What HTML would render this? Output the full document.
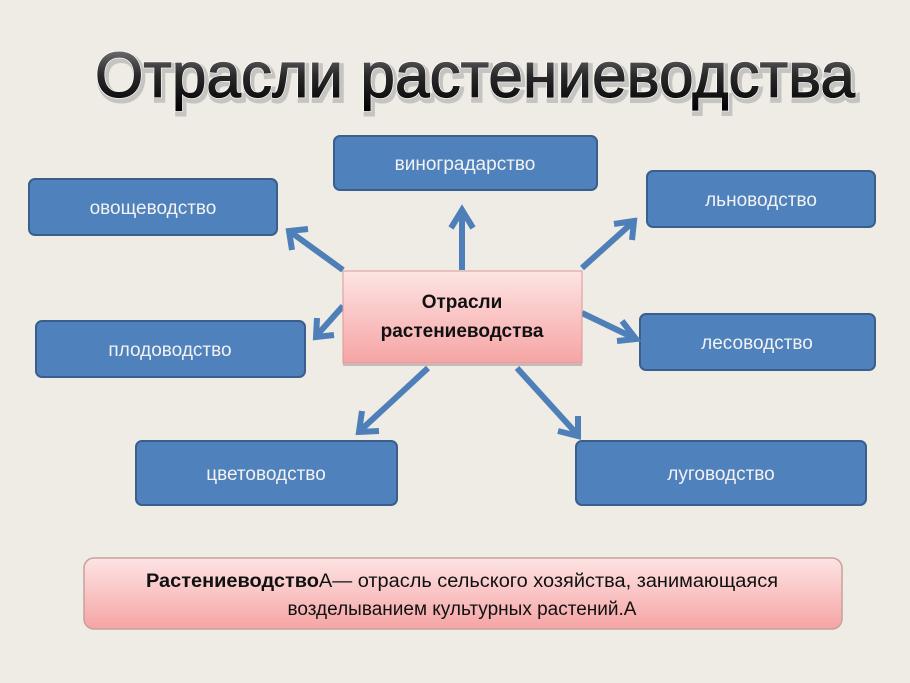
<!DOCTYPE html>
<html><head><meta charset="utf-8"><style>
html,body{margin:0;padding:0;background:#eeece4;}
svg{display:block}
</style></head><body>
<svg width="910" height="683" viewBox="0 0 910 683" xmlns="http://www.w3.org/2000/svg">
<defs>
<linearGradient id="tg" x1="0" y1="0" x2="0" y2="1">
<stop offset="0" stop-color="#8a8a8a"/><stop offset="0.5" stop-color="#2a2a2a"/><stop offset="1" stop-color="#000"/>
</linearGradient>
<linearGradient id="pk" x1="0" y1="0" x2="0" y2="1">
<stop offset="0" stop-color="#fde4e4"/><stop offset="1" stop-color="#f6a4a4"/>
</linearGradient>
</defs>
<rect width="910" height="683" fill="#eeece4"/>
<text x="475" y="97" text-anchor="middle" font-family="'Liberation Sans', 'DejaVu Sans', sans-serif" font-size="64" textLength="760" lengthAdjust="spacingAndGlyphs" fill="#bbb" stroke="#aaa" stroke-width="6" opacity="0.6" transform="translate(2,3)">Отрасли растениеводства</text>
<text x="475" y="97" text-anchor="middle" font-family="'Liberation Sans', 'DejaVu Sans', sans-serif" font-size="64" textLength="760" lengthAdjust="spacingAndGlyphs" fill="url(#tg)" stroke="#fff" stroke-width="2.5" paint-order="stroke">Отрасли растениеводства</text>
<text x="475" y="97" text-anchor="middle" font-family="'Liberation Sans', 'DejaVu Sans', sans-serif" font-size="64" textLength="760" lengthAdjust="spacingAndGlyphs" fill="url(#tg)" stroke="url(#tg)" stroke-width="1.2">Отрасли растениеводства</text>

<g fill="#4f81bd" stroke="#3a5f8c" stroke-width="2">
<rect x="334" y="136" width="263" height="54" rx="6"/>
<rect x="29" y="179" width="248" height="56" rx="6"/>
<rect x="647" y="171" width="228" height="56" rx="6"/>
<rect x="36" y="321" width="269" height="56" rx="6"/>
<rect x="640" y="314" width="235" height="56" rx="6"/>
<rect x="136" y="441" width="261" height="64" rx="6"/>
<rect x="576" y="441" width="290" height="64" rx="6"/>
</g>
<g font-family="'Liberation Sans',sans-serif" font-size="19" fill="#f2f2f2" text-anchor="middle">
<text x="465" y="170">виноградарство</text>
<text x="153" y="214">овощеводство</text>
<text x="761" y="206">льноводство</text>
<text x="170" y="356">плодоводство</text>
<text x="757" y="349">лесоводство</text>
<text x="266" y="480">цветоводство</text>
<text x="721" y="480">луговодство</text>
</g>

<g stroke="#4f7fb8" stroke-width="6" fill="none" stroke-linecap="butt">
<line x1="462" y1="270" x2="462" y2="212"/><polyline points="451,228 462,210 473,228"/>
<line x1="343" y1="270" x2="292" y2="233"/><polyline points="292,250 289,231 308,229"/>
<line x1="582" y1="268" x2="632" y2="223"/><polyline points="614,224 634,221 632,240"/>
<line x1="343" y1="306" x2="318" y2="334"/><polyline points="317,318 316,337 334,335"/>
<line x1="582" y1="313" x2="632" y2="337"/><polyline points="622,321 636,339 617,341"/>
<line x1="428" y1="368" x2="362" y2="429"/><polyline points="362,411 359,432 379,431"/>
<line x1="517" y1="368" x2="576" y2="433"/><polyline points="558,431 578,436 578,416"/>
</g>

<rect x="343" y="271" width="239" height="92" fill="url(#pk)" stroke="#d99" stroke-width="1"/>
<rect x="343" y="363" width="239" height="3" fill="#c9b8b4"/>
<g font-family="'Liberation Sans',sans-serif" font-size="19" font-weight="bold" fill="#111" text-anchor="middle">
<text x="462" y="308">Отрасли</text>
<text x="462" y="337">растениеводства</text>
</g>

<rect x="84" y="558" width="758" height="71" rx="10" fill="url(#pk)" stroke="#c9a09c" stroke-width="1.5"/>
<g font-family="'Liberation Sans',sans-serif" font-size="19" fill="#111" text-anchor="middle">
<text x="462" y="587" textLength="632" lengthAdjust="spacingAndGlyphs"><tspan font-weight="bold">Растениеводство</tspan>А— отрасль сельского хозяйства, занимающаяся</text>
<text x="462" y="615">возделыванием культурных растений.А</text>
</g>
</svg>
</body></html>
